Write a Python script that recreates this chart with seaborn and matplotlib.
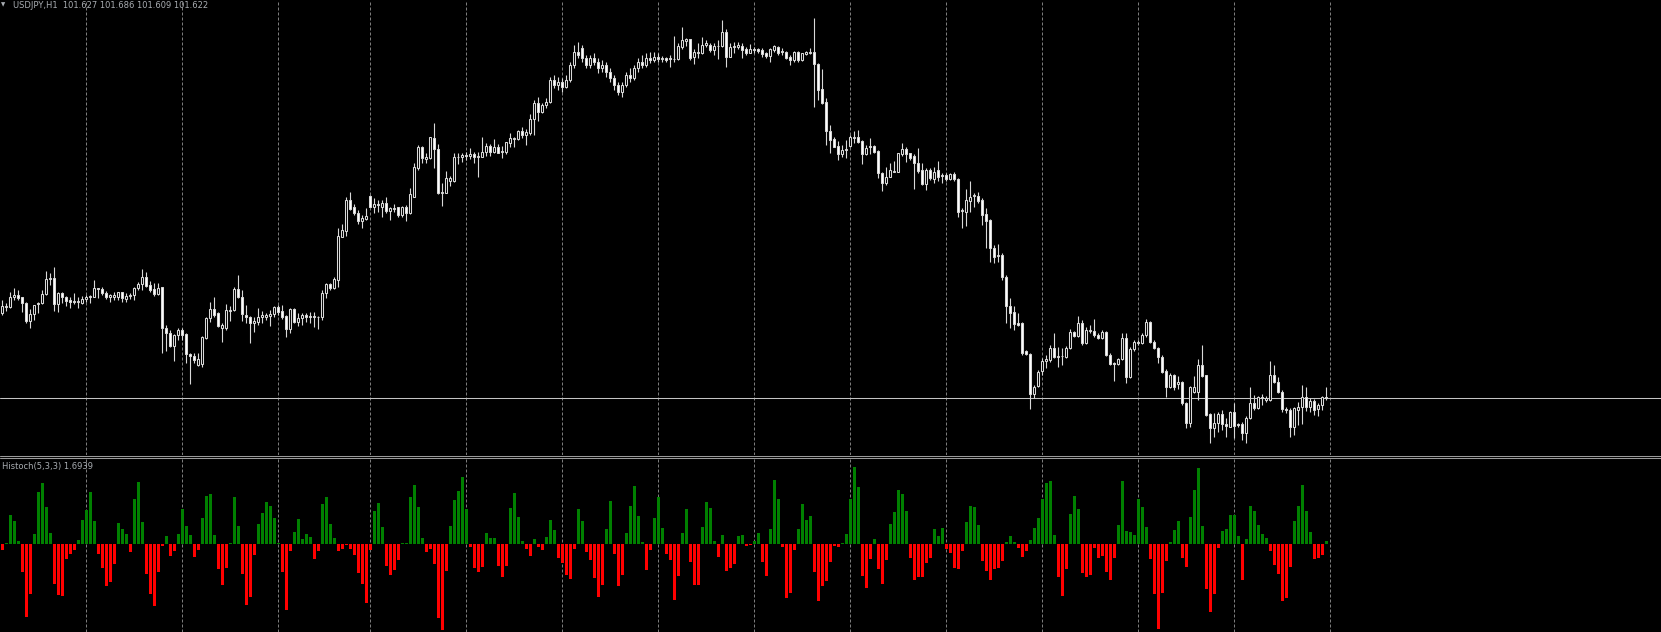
"""
USDJPY H1 candles with the Histoch(5,3,3) histogram underneath,
drawn in the MetaTrader black scheme.
"""

import numpy as np
import pandas as pd
import matplotlib
matplotlib.use('Agg')
import matplotlib.pyplot as plt
from matplotlib.lines import Line2D
import seaborn as sns

# ========== data ==========
opens = [
    102.134, 102.170, 102.170, 102.226, 102.238, 102.226, 102.190, 102.086, 102.126, 102.184,
    102.190, 102.244, 102.334, 102.340, 102.184, 102.250, 102.226, 102.210, 102.204, 102.196,
    102.190, 102.214, 102.226, 102.230, 102.280, 102.276, 102.254, 102.226, 102.230, 102.230,
    102.256, 102.218, 102.234, 102.240, 102.280, 102.304, 102.346, 102.300, 102.274, 102.244,
    102.286, 102.040, 102.010, 101.934, 101.998, 102.030, 102.004, 101.886, 101.874, 101.820,
    101.824, 101.984, 102.100, 102.156, 102.130, 102.040, 102.040, 102.146, 102.148, 102.274,
    102.226, 102.120, 102.106, 102.070, 102.080, 102.106, 102.110, 102.114, 102.126, 102.166,
    102.144, 102.114, 102.034, 102.154, 102.080, 102.100, 102.120, 102.110, 102.114, 102.106,
    102.106, 102.250, 102.304, 102.280, 102.330, 102.590, 102.626, 102.810, 102.766, 102.734,
    102.686, 102.694, 102.834, 102.770, 102.786, 102.770, 102.790, 102.746, 102.758, 102.766,
    102.720, 102.770, 102.734, 102.830, 103.000, 103.130, 103.054, 103.060, 103.182, 103.114,
    102.850, 102.854, 102.926, 102.926, 103.066, 103.070, 103.078, 103.074, 103.086, 103.070,
    103.070, 103.100, 103.136, 103.100, 103.130, 103.100, 103.096, 103.154, 103.176, 103.174,
    103.226, 103.202, 103.210, 103.294, 103.394, 103.340, 103.380, 103.400, 103.530, 103.500,
    103.520, 103.490, 103.530, 103.620, 103.700, 103.720, 103.660, 103.620, 103.660, 103.640,
    103.600, 103.620, 103.580, 103.540, 103.500, 103.460, 103.500, 103.560, 103.540, 103.600,
    103.640, 103.620, 103.660, 103.650, 103.670, 103.656, 103.664, 103.660, 103.654, 103.654,
    103.730, 103.766, 103.774, 103.670, 103.694, 103.694, 103.742, 103.740, 103.710, 103.732,
    103.734, 103.816, 103.670, 103.726, 103.726, 103.734, 103.714, 103.694, 103.710, 103.716,
    103.710, 103.694, 103.674, 103.710, 103.730, 103.704, 103.698, 103.670, 103.650, 103.696,
    103.650, 103.684, 103.694, 103.696, 103.626, 103.474, 103.398, 103.226, 103.174, 103.134,
    103.086, 103.110, 103.134, 103.184, 103.186, 103.162, 103.086, 103.130, 103.134, 103.104,
    102.970, 102.910, 102.950, 102.980, 102.980, 103.086, 103.116, 103.090, 103.076, 103.030,
    102.990, 102.906, 102.990, 102.934, 102.990, 102.960, 102.960, 102.934, 102.964, 102.934,
    102.746, 102.740, 102.806, 102.834, 102.834, 102.810, 102.724, 102.690, 102.524, 102.474,
    102.478, 102.350, 102.174, 102.138, 102.070, 102.070, 101.902, 101.884, 101.646, 101.694,
    101.786, 101.842, 101.850, 101.920, 101.870, 101.872, 101.870, 101.920, 102.020, 101.994,
    102.070, 101.950, 102.026, 102.022, 102.000, 101.980, 102.016, 101.880, 101.830, 101.826,
    101.858, 101.980, 101.746, 101.914, 101.954, 101.954, 102.000, 102.080, 101.960, 101.920,
    101.870, 101.784, 101.686, 101.760, 101.706, 101.718, 101.594, 101.470, 101.660, 101.660,
    101.820, 101.758, 101.526, 101.440, 101.474, 101.526, 101.464, 101.450, 101.536, 101.464,
    101.464, 101.410, 101.500, 101.594, 101.560, 101.622, 101.610, 101.610, 101.760, 101.720,
    101.660, 101.558, 101.550, 101.446, 101.550, 101.566, 101.626, 101.566, 101.606, 101.558,
    101.578, 101.627,
]

highs = [
    102.210, 102.194, 102.260, 102.280, 102.270, 102.230, 102.200, 102.156, 102.182, 102.200,
    102.270, 102.386, 102.370, 102.406, 102.260, 102.260, 102.234, 102.230, 102.250, 102.226,
    102.234, 102.240, 102.240, 102.330, 102.284, 102.290, 102.266, 102.246, 102.256, 102.260,
    102.260, 102.250, 102.254, 102.290, 102.320, 102.394, 102.376, 102.326, 102.310, 102.310,
    102.290, 102.060, 102.030, 102.006, 102.040, 102.040, 102.010, 101.894, 101.890, 101.890,
    101.994, 102.106, 102.200, 102.226, 102.136, 102.070, 102.184, 102.174, 102.290, 102.360,
    102.270, 102.180, 102.114, 102.106, 102.160, 102.146, 102.130, 102.150, 102.174, 102.180,
    102.178, 102.120, 102.160, 102.160, 102.134, 102.130, 102.134, 102.136, 102.140, 102.116,
    102.270, 102.310, 102.314, 102.346, 102.640, 102.666, 102.830, 102.858, 102.786, 102.750,
    102.720, 102.760, 102.840, 102.820, 102.810, 102.810, 102.826, 102.770, 102.786, 102.770,
    102.774, 102.778, 102.880, 103.030, 103.140, 103.134, 103.090, 103.190, 103.274, 103.146,
    102.910, 102.984, 102.954, 103.090, 103.090, 103.094, 103.100, 103.120, 103.100, 103.100,
    103.186, 103.150, 103.146, 103.174, 103.144, 103.134, 103.160, 103.210, 103.190, 103.230,
    103.246, 103.234, 103.326, 103.410, 103.430, 103.390, 103.420, 103.550, 103.560, 103.550,
    103.540, 103.560, 103.640, 103.740, 103.760, 103.740, 103.680, 103.680, 103.690, 103.660,
    103.650, 103.640, 103.600, 103.560, 103.520, 103.520, 103.580, 103.600, 103.620, 103.660,
    103.680, 103.690, 103.700, 103.700, 103.690, 103.674, 103.670, 103.680, 103.794, 103.750,
    103.846, 103.784, 103.778, 103.714, 103.750, 103.786, 103.770, 103.754, 103.750, 103.770,
    103.890, 103.834, 103.750, 103.760, 103.760, 103.750, 103.726, 103.746, 103.726, 103.724,
    103.720, 103.700, 103.720, 103.740, 103.734, 103.720, 103.706, 103.680, 103.702, 103.706,
    103.694, 103.706, 103.720, 103.902, 103.630, 103.594, 103.420, 103.260, 103.190, 103.166,
    103.140, 103.170, 103.200, 103.226, 103.230, 103.170, 103.140, 103.180, 103.140, 103.110,
    102.980, 103.006, 103.034, 103.046, 103.094, 103.154, 103.126, 103.094, 103.086, 103.120,
    103.030, 103.000, 103.000, 103.010, 103.046, 102.974, 102.970, 102.970, 102.980, 102.940,
    102.760, 102.874, 102.924, 102.850, 102.860, 102.820, 102.760, 102.694, 102.540, 102.546,
    102.490, 102.360, 102.220, 102.174, 102.134, 102.080, 101.910, 101.890, 101.700, 101.790,
    101.860, 101.880, 101.940, 102.010, 101.926, 101.920, 101.934, 102.034, 102.026, 102.114,
    102.090, 102.046, 102.060, 102.094, 102.010, 102.030, 102.026, 101.890, 101.840, 101.860,
    102.010, 102.010, 101.930, 101.970, 101.970, 102.014, 102.094, 102.086, 101.970, 101.930,
    101.880, 101.794, 101.770, 101.766, 101.754, 101.726, 101.600, 101.694, 101.754, 101.854,
    101.940, 101.762, 101.534, 101.530, 101.540, 101.550, 101.500, 101.546, 101.590, 101.474,
    101.480, 101.514, 101.690, 101.640, 101.634, 101.646, 101.634, 101.846, 101.820, 101.746,
    101.670, 101.570, 101.560, 101.570, 101.600, 101.700, 101.686, 101.620, 101.614, 101.590,
    101.636, 101.686,
]

lows = [
    102.122, 102.146, 102.164, 102.210, 102.210, 102.140, 102.074, 102.044, 102.090, 102.134,
    102.186, 102.240, 102.300, 102.146, 102.140, 102.190, 102.174, 102.160, 102.186, 102.164,
    102.184, 102.200, 102.194, 102.226, 102.220, 102.240, 102.214, 102.198, 102.210, 102.210,
    102.200, 102.200, 102.214, 102.210, 102.270, 102.270, 102.290, 102.260, 102.234, 102.240,
    101.890, 101.906, 101.926, 101.846, 101.970, 101.970, 101.834, 101.706, 101.830, 101.814,
    101.806, 101.978, 102.080, 102.110, 102.050, 101.960, 102.030, 102.084, 102.144, 102.220,
    102.084, 102.070, 101.954, 102.020, 102.060, 102.070, 102.090, 102.054, 102.110, 102.120,
    102.096, 101.990, 102.014, 102.074, 102.054, 102.060, 102.080, 102.070, 102.050, 102.034,
    102.090, 102.220, 102.270, 102.274, 102.290, 102.590, 102.594, 102.750, 102.720, 102.666,
    102.644, 102.690, 102.766, 102.734, 102.740, 102.710, 102.730, 102.690, 102.740, 102.710,
    102.706, 102.686, 102.726, 102.826, 102.990, 103.034, 103.030, 103.054, 103.000, 102.846,
    102.774, 102.850, 102.894, 102.920, 103.026, 103.040, 103.050, 103.054, 103.030, 102.950,
    103.066, 103.074, 103.074, 103.090, 103.090, 103.060, 103.086, 103.130, 103.130, 103.170,
    103.180, 103.140, 103.200, 103.202, 103.286, 103.330, 103.360, 103.390, 103.480, 103.470,
    103.460, 103.480, 103.520, 103.600, 103.660, 103.640, 103.600, 103.600, 103.620, 103.570,
    103.580, 103.550, 103.520, 103.470, 103.440, 103.430, 103.490, 103.520, 103.530, 103.580,
    103.600, 103.610, 103.630, 103.640, 103.640, 103.640, 103.640, 103.610, 103.640, 103.650,
    103.714, 103.734, 103.650, 103.626, 103.660, 103.686, 103.726, 103.700, 103.680, 103.656,
    103.726, 103.610, 103.666, 103.694, 103.714, 103.660, 103.680, 103.690, 103.694, 103.694,
    103.670, 103.660, 103.640, 103.700, 103.680, 103.680, 103.654, 103.620, 103.640, 103.640,
    103.646, 103.680, 103.686, 103.370, 103.410, 103.386, 103.140, 103.090, 103.126, 103.050,
    103.070, 103.060, 103.130, 103.150, 103.154, 103.026, 103.080, 103.086, 103.094, 102.940,
    102.866, 102.900, 102.946, 102.978, 102.976, 103.074, 103.040, 103.050, 102.876, 102.974,
    102.900, 102.870, 102.930, 102.910, 102.926, 102.914, 102.926, 102.930, 102.926, 102.710,
    102.640, 102.654, 102.740, 102.770, 102.790, 102.660, 102.520, 102.436, 102.430, 102.440,
    102.330, 102.074, 102.040, 102.030, 102.054, 101.880, 101.880, 101.554, 101.620, 101.690,
    101.760, 101.800, 101.840, 101.860, 101.810, 101.820, 101.860, 101.914, 101.986, 101.990,
    101.940, 101.946, 102.010, 101.990, 101.974, 101.974, 101.874, 101.820, 101.726, 101.820,
    101.850, 101.710, 101.740, 101.906, 101.940, 101.946, 101.990, 101.954, 101.914, 101.830,
    101.770, 101.630, 101.680, 101.670, 101.674, 101.580, 101.440, 101.450, 101.650, 101.610,
    101.746, 101.514, 101.354, 101.390, 101.420, 101.430, 101.390, 101.446, 101.380, 101.450,
    101.370, 101.350, 101.494, 101.550, 101.554, 101.580, 101.600, 101.606, 101.710, 101.650,
    101.540, 101.534, 101.390, 101.400, 101.460, 101.464, 101.546, 101.540, 101.520, 101.514,
    101.550, 101.609,
]

closes = [
    102.174, 102.174, 102.226, 102.238, 102.224, 102.190, 102.084, 102.126, 102.178, 102.194,
    102.244, 102.334, 102.340, 102.184, 102.254, 102.226, 102.204, 102.200, 102.196, 102.204,
    102.214, 102.228, 102.234, 102.280, 102.274, 102.254, 102.226, 102.238, 102.242, 102.256,
    102.220, 102.234, 102.240, 102.284, 102.308, 102.346, 102.296, 102.270, 102.244, 102.284,
    102.040, 102.010, 101.934, 102.000, 102.030, 102.000, 101.884, 101.874, 101.850, 101.854,
    101.986, 102.100, 102.156, 102.120, 102.054, 102.060, 102.150, 102.150, 102.274, 102.226,
    102.126, 102.106, 102.074, 102.084, 102.106, 102.118, 102.120, 102.126, 102.166, 102.140,
    102.106, 102.034, 102.154, 102.080, 102.100, 102.120, 102.110, 102.116, 102.106, 102.108,
    102.250, 102.304, 102.280, 102.334, 102.594, 102.630, 102.810, 102.758, 102.734, 102.686,
    102.702, 102.714, 102.770, 102.786, 102.778, 102.790, 102.746, 102.760, 102.762, 102.720,
    102.770, 102.734, 102.846, 103.010, 103.130, 103.060, 103.070, 103.186, 103.114, 102.850,
    102.856, 102.940, 102.940, 103.066, 103.070, 103.078, 103.074, 103.084, 103.070, 103.074,
    103.100, 103.136, 103.100, 103.126, 103.094, 103.104, 103.156, 103.180, 103.180, 103.226,
    103.202, 103.216, 103.294, 103.394, 103.340, 103.380, 103.400, 103.530, 103.500, 103.520,
    103.490, 103.530, 103.620, 103.700, 103.680, 103.660, 103.620, 103.660, 103.640, 103.600,
    103.620, 103.580, 103.540, 103.500, 103.460, 103.500, 103.560, 103.540, 103.600, 103.640,
    103.620, 103.660, 103.650, 103.670, 103.656, 103.660, 103.650, 103.654, 103.658, 103.734,
    103.770, 103.774, 103.660, 103.698, 103.698, 103.742, 103.750, 103.710, 103.734, 103.736,
    103.816, 103.670, 103.726, 103.734, 103.740, 103.710, 103.694, 103.716, 103.714, 103.704,
    103.686, 103.674, 103.714, 103.734, 103.694, 103.698, 103.660, 103.650, 103.696, 103.650,
    103.690, 103.696, 103.696, 103.624, 103.470, 103.394, 103.226, 103.170, 103.130, 103.086,
    103.110, 103.118, 103.186, 103.188, 103.160, 103.086, 103.120, 103.132, 103.100, 102.970,
    102.910, 102.950, 102.990, 102.984, 103.090, 103.116, 103.086, 103.060, 103.030, 102.986,
    102.906, 102.990, 102.940, 102.980, 102.950, 102.952, 102.934, 102.964, 102.934, 102.740,
    102.750, 102.810, 102.830, 102.838, 102.806, 102.720, 102.686, 102.520, 102.470, 102.478,
    102.350, 102.174, 102.134, 102.066, 102.062, 101.894, 101.886, 101.646, 101.690, 101.780,
    101.846, 101.854, 101.920, 101.870, 101.872, 101.872, 101.920, 102.020, 101.994, 102.070,
    101.950, 102.030, 102.030, 102.000, 101.980, 102.016, 101.880, 101.826, 101.828, 101.854,
    101.980, 101.746, 101.914, 101.960, 101.960, 102.000, 102.080, 101.960, 101.920, 101.870,
    101.780, 101.686, 101.760, 101.686, 101.718, 101.590, 101.470, 101.690, 101.686, 101.820,
    101.754, 101.520, 101.440, 101.474, 101.526, 101.464, 101.452, 101.536, 101.454, 101.460,
    101.410, 101.500, 101.594, 101.560, 101.626, 101.626, 101.620, 101.760, 101.720, 101.660,
    101.554, 101.550, 101.446, 101.560, 101.566, 101.626, 101.570, 101.606, 101.552, 101.580,
    101.628, 101.622,
]

# Histoch(5,3,3): stochastic main line minus 50
histoch = [
    -3.4, 0.6, 16.7, 13.2, 1.7, -15.9, -41.8, -28.5, 5.7, 29.9,
    35.1, 21.3, 6.3, -22.8, -29.1, -29.7, -8.4, -5.6, -3.3, 2.3,
    13.8, 19.5, 29.9, 13.2, -5.7, -13.6, -23.9, -21.6, -11.5, 12.1,
    8.6, 5.7, -4.4, 25.9, 35.6, 12.6, -17.0, -28.5, -35.4, -15.9,
    -1.0, 4.6, -6.7, -3.8, 5.7, 20.1, 10.3, 5.2, -7.3, -3.3,
    14.9, 27.6, 28.7, 5.2, -14.2, -23.4, -13.6, 0.6, 27.0, 10.3,
    -17.0, -34.9, -30.3, -6.1, 11.5, 17.8, 24.1, 21.8, 14.9, 0.4,
    -15.9, -37.7, -3.8, 6.9, 14.4, 2.9, 5.7, 4.0, -8.4, -3.8,
    23.0, 27.0, 11.5, 3.4, -3.8, -2.7, -0.4, -2.7, -6.1, -16.5,
    -22.8, -33.7, -3.3, 19.0, 23.6, 9.8, -12.5, -17.6, -14.8, -9.0,
    0.6, 0.6, 27.0, 33.9, 21.3, 3.4, -4.4, -2.7, -11.3, -42.3,
    -49.2, -15.3, 10.3, 25.3, 30.5, 38.5, 20.1, -1.5, -13.6, -15.9,
    -13.0, 6.3, 3.4, 3.4, -12.5, -18.8, -12.5, 20.7, 29.3, 15.5,
    1.7, -2.7, -6.7, 2.9, -1.5, -3.3, 4.0, 13.8, 8.0, -7.9,
    -10.7, -17.6, -19.9, -2.7, 20.1, 13.2, -4.4, -9.0, -19.3, -30.3,
    -23.4, 8.6, 24.7, -5.6, -23.9, -17.6, 6.3, 21.8, 33.3, 16.1,
    1.1, -14.8, -3.3, 14.9, 27.0, 9.2, -5.6, -9.0, -32.0, -18.2,
    6.3, 20.1, -10.2, -23.4, -23.4, 9.8, 24.1, 20.7, 1.7, -7.3,
    5.2, -15.3, -13.6, -11.3, 4.6, 5.2, -1.0, -0.4, 1.7, 6.3,
    -10.2, -18.2, 8.6, 36.8, 25.9, -1.5, -30.8, -28.0, -3.3, 8.6,
    23.0, 13.8, 16.1, -15.9, -32.6, -23.9, -21.1, -10.2, -1.0, -1.5,
    0.6, 5.7, 25.9, 44.3, 32.8, -18.2, -25.1, -8.4, 2.9, -14.2,
    -22.8, -9.0, 11.5, 18.4, 31.0, 28.7, 19.0, -7.9, -20.5, -18.8,
    -18.8, -10.7, -7.9, 8.6, 4.6, 9.2, -2.7, -5.0, -13.6, -14.2,
    -3.8, 12.6, 21.8, 21.3, 10.9, -9.6, -15.3, -20.5, -14.2, -13.6,
    -9.6, 1.1, 4.6, 1.1, -2.1, -7.3, -3.8, 2.3, 9.2, 14.9,
    25.9, 35.1, 36.2, 5.2, -18.8, -29.7, -14.2, 17.2, 27.6, 20.1,
    -16.5, -18.8, -17.6, -2.1, -7.9, -6.7, -15.9, -20.5, -7.9, 10.9,
    36.2, 7.5, 6.9, 5.2, 25.9, 21.3, 9.8, -8.4, -28.5, -48.7,
    -28.0, -9.6, 1.1, 8.0, 13.2, -7.9, -13.0, 15.5, 31.0, 43.7,
    10.3, -25.7, -38.9, -28.5, -2.1, 7.5, 8.6, 16.7, 16.7, 4.6,
    -20.5, 2.9, 21.8, 19.0, 10.9, 5.7, 3.4, -3.8, -11.9, -17.0,
    -32.6, -30.8, -13.0, 13.2, 21.8, 33.9, 19.0, 6.9, -8.4, -7.9,
    -6.1, 1.69,
]

# bars where a new trading day starts (dashed separators)
day_starts = [21, 45, 69, 92, 116, 140, 164, 188, 212, 236, 260, 284, 308, 332]
bid_price = 101.622
header_text = "USDJPY,H1  101.627 101.686 101.609 101.622"
hist_text = "Histoch(5,3,3) 1.6939"

n = len(closes)
assert len(opens) == len(highs) == len(lows) == n == len(histoch)

df = pd.DataFrame({'bar': np.arange(n), 'open': opens, 'high': highs,
                   'low': lows, 'close': closes})
hist_df = pd.DataFrame({'bar': np.arange(n), 'value': histoch})
hist_df['side'] = np.where(hist_df['value'] >= 0, 'up', 'down')

# ========== style ==========
sns.set_theme(style='dark', rc={'axes.facecolor': 'black',
                                'figure.facecolor': 'black',
                                'savefig.facecolor': 'black'})
plt.rcParams['font.family'] = ['DejaVu Sans']

W, H = 1661, 632
fig = plt.figure(figsize=(W / 100, H / 100), dpi=100)
ax_p = fig.add_axes([0, (H - 455) / H, 1, 455 / H])
ax_h = fig.add_axes([0, 0, 1, (H - 457) / H])

candle_line = '#d8d8d8'
grid_col = '#7c7c7c'

# ---- candles ----
bull = df['close'] >= df['open']
body_low = df[['open', 'close']].min(axis=1)
body_h = (df['close'] - df['open']).abs().clip(lower=0.004)
ax_p.vlines(df['bar'], df['low'], df['high'], color=candle_line, lw=0.8, zorder=2)
ax_p.bar(df['bar'], body_h, bottom=body_low, width=0.5,
         color=np.where(bull, 'black', 'white'), edgecolor=candle_line,
         linewidth=0.75, zorder=3)
ax_p.axhline(bid_price, color='#c4c4c4', lw=0.75, zorder=1)
ax_p.set_ylim(101.280, 104.010)

# ---- histogram ----
sns.barplot(data=hist_df, x='bar', y='value', hue='side',
            palette={'up': '#008000', 'down': '#ff0000'},
            native_scale=True, dodge=False, width=0.75, errorbar=None,
            saturation=1, linewidth=0, legend=False, ax=ax_h)
ax_h.set_ylim(-50.6, 50)

for ax in (ax_p, ax_h):
    for d in day_starts:
        ax.axvline(d + 0.08, color=grid_col, lw=0.72, ls=(0, (3, 2)), zorder=0.5)
    ax.set_xlim(-0.5, (W - 2) / 4)
    ax.set_xticks([])
    ax.set_yticks([])
    ax.set_xlabel('')
    ax.set_ylabel('')
    ax.grid(False)
    for s in ax.spines.values():
        s.set_visible(False)

# panel separator
for yy in (455.5, 457.5):
    fig.add_artist(Line2D([0, 1], [1 - yy / H, 1 - yy / H],
                          transform=fig.transFigure, color='#9a9a9a', lw=0.75))

txt_col = '#a9adb2'
fig.text(1 / W, 1 - 5 / H, '▼', color=txt_col, fontsize=4, va='center', ha='left')
fig.text(13 / W, 1 - 5 / H, header_text, color=txt_col, fontsize=6,
         va='center', ha='left')
fig.text(2 / W, 1 - 466.5 / H, hist_text, color=txt_col, fontsize=6,
         va='center', ha='left')

fig.savefig('out.png', dpi=100, facecolor='black')
